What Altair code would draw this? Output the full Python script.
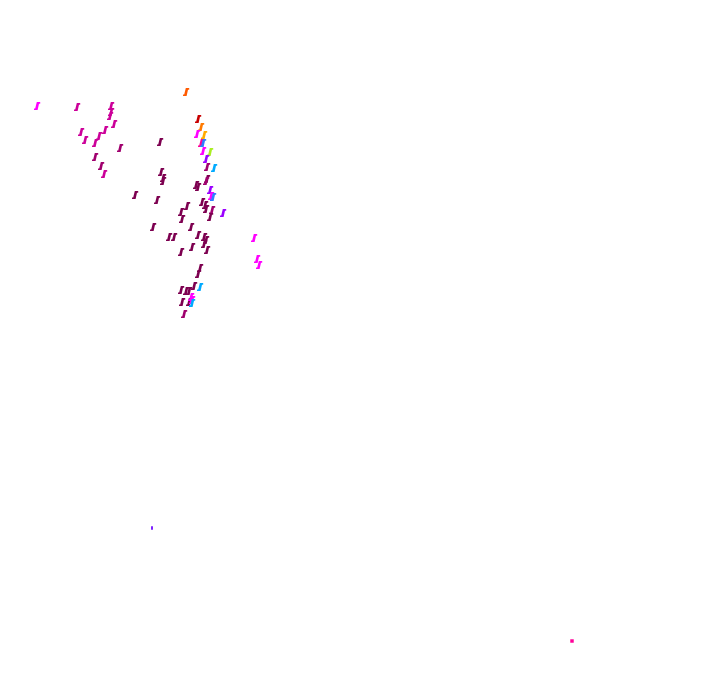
import altair as alt
import pandas as pd

# positions (x to the right, y upward), colour keys and sizes
xs = [37, 77, 111, 111, 110, 114, 81, 85, 99, 105, 95, 120, 95, 101, 104,
      186, 198, 201, 204, 197, 201, 203, 203, 210, 206, 207, 214,
      160, 161, 163, 163, 207, 196, 198, 206, 210, 211, 213, 202, 205,
      157, 135, 187, 206, 212, 223, 181, 182, 210, 153, 191, 169, 174,
      198, 204, 206, 204, 192, 207, 181, 200, 198, 254, 257, 259,
      194, 200, 181, 186, 189, 182, 189, 192, 191, 192, 184, 152, 572]
ys = [106, 107, 106, 112, 116, 124, 132, 140, 136, 130, 143, 148, 157, 166, 174,
      92, 119, 127, 135, 134, 143, 143, 151, 152, 159, 167, 168,
      142, 172, 178, 181, 179, 185, 187, 181, 190, 196, 197, 202, 205,
      200, 195, 206, 209, 210, 213, 212, 219, 217, 227, 227, 237, 237,
      235, 237, 240, 244, 247, 250, 252, 268, 274, 238, 259, 265,
      286, 287, 290, 291, 291, 302, 302, 300, 297, 303, 314, 528, 641]
keys = ["M1", "M2", "M2", "M2", "M2", "M2", "M2", "M2", "M2", "M2", "M2", "M3", "M3", "M3", "M2",
        "OR", "DR", "OG", "AM", "MG", "PK", "BL", "MG", "LI", "PU", "M3", "CY",
        "D", "D", "D", "D", "D", "D", "D", "M3", "PU", "MG", "BL", "D", "D",
        "D", "D", "D", "D", "M3", "PU", "D", "D", "D", "D", "D", "D", "D",
        "D", "D", "D", "D", "D", "D", "D", "D", "D", "MG", "MG", "MG",
        "D", "CY", "D", "D", "D", "D", "D", "MG", "MG", "CY", "M3", "VI", "PK"]
sizes = [64] * (len(xs) - 2) + [12, 12]

color_keys = ["M1", "M2", "M3", "D", "OR", "DR", "OG", "AM", "MG", "PK", "BL", "LI", "PU", "CY", "VI"]
color_vals = ["#ff00ff", "#cc0099", "#a0006e", "#7d0050", "#ff5a00", "#c80000", "#ff7a00",
              "#ffaa00", "#ff00ff", "#ff0099", "#2f7dff", "#aaee22", "#9a00ff", "#00aaff", "#6a00ff"]

glyph = "M-0.05,-1 L0.8,-1 L0.8,-0.55 L0.5,-0.55 L0.15,1 L-0.75,1 L-0.75,0.6 L-0.45,0.6 Z"
shapes = [glyph] * (len(xs) - 2) + ["M-0.5,-1 L0.5,-1 L0.5,1 L-0.5,1 Z", "square"]

df = pd.DataFrame({"x": [v - 8 for v in xs], "y": [684 - v for v in ys],
                   "k": keys, "s": sizes, "sh": shapes})

chart = alt.Chart(df).mark_point(filled=True, opacity=1, strokeWidth=0).encode(
    x=alt.X("x:Q", scale=alt.Scale(domain=[0, 704], nice=False, zero=False), axis=None),
    y=alt.Y("y:Q", scale=alt.Scale(domain=[0, 676], nice=False, zero=False), axis=None),
    color=alt.Color("k:N", scale=alt.Scale(domain=color_keys, range=color_vals), legend=None),
    size=alt.Size("s:Q", scale=None, legend=None),
    shape=alt.Shape("sh:N", scale=None, legend=None),
).properties(
    width=704, height=676, padding=0,
    autosize=alt.AutoSizeParams(type="fit", contains="padding"),
).configure_view(stroke=None)

chart.save("out.html", embed_options={"renderer": "svg", "actions": False})
